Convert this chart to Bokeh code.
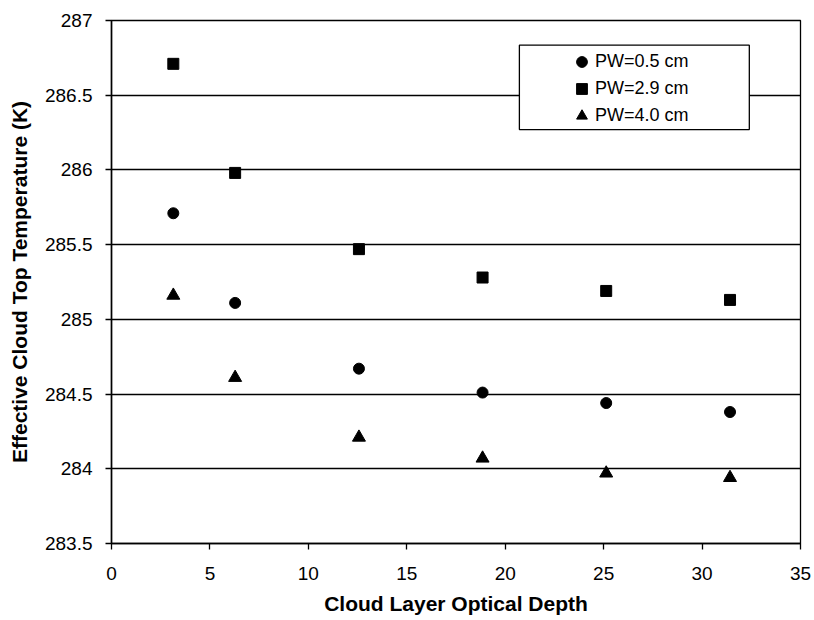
from bokeh.plotting import figure
from bokeh.models import (Range1d, SingleIntervalTicker, CustomJSTickFormatter,
                          Legend, LegendItem, BoxAnnotation)
from bokeh.embed import file_html
from bokeh.resources import INLINE

# ---- data ----
optical_depth = [3.14, 6.28, 12.57, 18.85, 25.13, 31.42]
pw_05 = [285.71, 285.11, 284.67, 284.51, 284.44, 284.38]
pw_29 = [286.71, 285.98, 285.47, 285.28, 285.19, 285.13]
pw_40 = [285.16, 284.61, 284.21, 284.07, 283.97, 283.94]
series_labels = ["PW=0.5 cm", "PW=2.9 cm", "PW=4.0 cm"]
x_title = "Cloud Layer Optical Depth"
y_title = "Effective Cloud Top Temperature (K)"

FONT = "Liberation Sans"

p = figure(width=814, height=620, output_backend="svg", toolbar_location=None,
           x_range=Range1d(0, 35), y_range=Range1d(283.5, 287),
           min_border_left=111, min_border_right=14, min_border_top=20,
           min_border_bottom=77)
p.background_fill_color = "white"
p.border_fill_color = "white"
p.outline_line_color = "black"
p.outline_line_width = 1.3

# axes
p.xaxis.ticker = SingleIntervalTicker(interval=5)
p.yaxis.ticker = SingleIntervalTicker(interval=0.5)
p.yaxis.formatter = CustomJSTickFormatter(code="return String(Math.round(tick*10)/10);")
for ax in (p.xaxis, p.yaxis):
    ax.axis_line_color = "black"
    ax.axis_line_width = 1.5
    ax.major_tick_line_color = "black"
    ax.major_tick_line_width = 1.3
    ax.major_tick_out = 6
    ax.major_tick_in = 0
    ax.minor_tick_line_color = None
    ax.major_label_text_font = FONT
    ax.major_label_text_font_size = "19px"
    ax.major_label_text_color = "black"
    ax.axis_label_text_font = FONT
    ax.axis_label_text_font_size = "21px"
    ax.axis_label_text_font_style = "bold"
    ax.axis_label_text_color = "black"
p.xaxis.axis_label = x_title
p.yaxis.axis_label = y_title
p.xaxis.major_label_standoff = 17
p.yaxis.major_label_standoff = 13
p.xaxis.axis_label_standoff = 9
p.yaxis.axis_label_standoff = 11

# grid
p.xgrid.grid_line_color = None
p.ygrid.grid_line_color = "black"
p.ygrid.grid_line_width = 1.3

# data marks
r1 = p.scatter(optical_depth, pw_05, marker="circle", size=11,
               fill_color="black", line_color="black")
r2 = p.scatter(optical_depth, pw_29, marker="square", size=11,
               fill_color="black", line_color="black")
r3 = p.scatter(optical_depth, pw_40, marker="triangle", size=13,
               fill_color="black", line_color="black")

# legend box
box = BoxAnnotation(left=20.72, right=32.4, top=286.835, bottom=286.27,
                    fill_color="white", fill_alpha=1.0,
                    line_color="black", line_alpha=1.0, line_width=1.3,
                    level="annotation")
p.add_layout(box)

legend = Legend(items=[LegendItem(label=series_labels[0], renderers=[r1]),
                       LegendItem(label=series_labels[1], renderers=[r2]),
                       LegendItem(label=series_labels[2], renderers=[r3])],
                location=(457, 414))
legend.background_fill_alpha = 0
legend.border_line_color = None
legend.padding = 0
legend.margin = 0
legend.spacing = 0
legend.glyph_width = 27
legend.glyph_height = 27
legend.label_height = 27
legend.label_standoff = 0
legend.label_text_font = FONT
legend.label_text_font_size = "18px"
legend.label_text_color = "black"
p.add_layout(legend, "center")

open("out.html", "w").write(file_html(p, INLINE))
